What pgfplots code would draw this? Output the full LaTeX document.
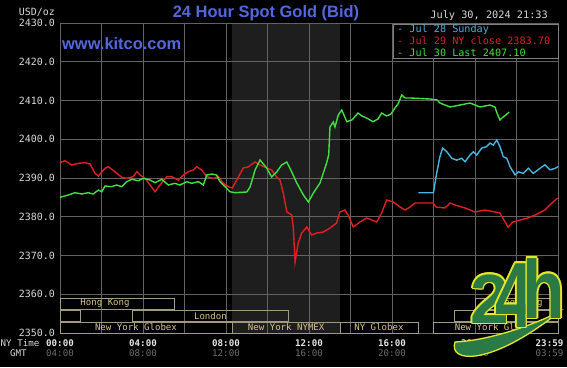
\documentclass[border=0pt]{standalone}
\usepackage{pgfplots}
\pgfplotsset{compat=1.18}
\usepackage{fontspec}
\setmainfont{DejaVu Sans Mono}
\newfontfamily\mono{DejaVu Sans Mono}
\newfontfamily\arialb{Liberation Sans}
\definecolor{gridc}{HTML}{626262}
\definecolor{shadec}{HTML}{1E1E1E}
\definecolor{titleblue}{HTML}{5468DE}
\definecolor{tlabel}{HTML}{D8D8D8}
\definecolor{gmtc}{HTML}{6E6E6E}
\definecolor{sessline}{HTML}{A09A80}
\definecolor{sesstext}{HTML}{D6C48C}
\definecolor{cblue}{HTML}{48B4E0}
\definecolor{cred}{HTML}{E02020}
\definecolor{cgreen}{HTML}{40E040}
\definecolor{logog}{HTML}{2A7A45}
\definecolor{logoy}{HTML}{E6E62A}
\newcommand\logoglyph[5]{%
  \foreach \dx/\dy in {1.5/0,-1.5/0,0/1.5,0/-1.5,1.1/1.1,1.1/-1.1,-1.1/1.1,-1.1/-1.1}{%
    \node[anchor=base, inner sep=0pt, xscale=#4, text=logoy, font=\arialb\bfseries\fontsize{#3}{#3}\selectfont] at ([shift={(\dx,\dy)}]#1,#2) {#5};}%
  \node[anchor=base, inner sep=0pt, xscale=#4, text=logog, font=\arialb\bfseries\fontsize{#3}{#3}\selectfont] at (#1,#2) {#5};}
\begin{document}
\begin{tikzpicture}[x=1bp,y=1bp]
\begin{axis}[
  name=ax,
  scale only axis, width=498bp, height=310bp,
  xmin=0, xmax=24, ymin=2350, ymax=2430,
  xtick={0,2,...,24}, xticklabels={},
  ytick={2350,2360,...,2430},
  yticklabels={2350.0,2360.0,2370.0,2380.0,2390.0,2400.0,2410.0,2420.0,2430.0},
  yticklabel style={font=\mono\fontsize{10}{12}\selectfont, text=tlabel, anchor=east, inner sep=0pt, xshift=-5bp},
  major tick length=0pt,
  grid=major, major grid style={gridc, line width=0.6bp},
  axis line style={gridc, line width=0.6bp},
  set layers, clip=false,
]
\coordinate (sw) at (rel axis cs:0,0);
\pgfplotsextra{%
\begin{pgfonlayer}{axis background}
\fill[black] (rel axis cs:-0.1205,-0.1097) rectangle (rel axis cs:1.0181,1.0742);
\fill[shadec] (axis cs:8.3,2350) rectangle (axis cs:13.5,2430);
\end{pgfonlayer}}
% session boxes
\begin{scope}[sessline, line width=0.6bp]
\draw (axis cs:0,2356.2) rectangle (axis cs:5.5,2359.0);
\draw (axis cs:20,2356.2) rectangle (axis cs:24,2359.0);
\draw (axis cs:0,2352.95) rectangle (axis cs:1,2355.8);
\draw (axis cs:3.5,2352.95) rectangle (axis cs:11,2355.8);
\draw (axis cs:19,2352.95) rectangle (axis cs:24,2355.8);
\draw (axis cs:0,2350.05) rectangle (axis cs:8.3,2352.8);
\draw (axis cs:8.3,2350.05) rectangle (axis cs:13.5,2352.8);
\draw (axis cs:13.5,2350.05) rectangle (axis cs:17.25,2352.8);
\draw (axis cs:18,2350.05) rectangle (axis cs:24,2352.8);
\end{scope}
\begin{scope}[every node/.style={font=\mono\fontsize{9.1}{10}\selectfont, text=sesstext, inner sep=0pt}]
\node at (axis cs:2.17,2357.6) {Hong Kong};
\node at (axis cs:22.07,2357.6) {Hong Kong};
\node at (axis cs:7.25,2354.4) {London};
\node at (axis cs:3.66,2351.4) {New York Globex};
\node at (axis cs:10.9,2351.4) {New York NYMEX};
\node at (axis cs:15.37,2351.4) {NY Globex};
\node at (axis cs:21,2351.4) {New York Globex};
\end{scope}
% Jul 28 Sunday
\addplot[cblue, line width=1.4bp] coordinates {
(17.27,2386.2) (17.99,2386.2) (18.02,2386.9) (18.15,2391.2) (18.31,2395.5) (18.44,2397.7) (18.64,2396.8) (18.88,2395.1) (19.12,2394.6) (19.36,2395.1) (19.52,2394.2) (19.76,2395.9) (19.92,2396.8) (20.08,2395.9) (20.32,2397.7) (20.56,2398.1) (20.72,2399.0) (20.88,2398.5) (21.05,2399.8) (21.20,2398.1) (21.36,2395.5) (21.53,2395.1) (21.69,2392.9) (21.93,2390.8) (22.09,2391.6) (22.33,2391.2) (22.57,2392.5) (22.81,2391.2) (23.13,2392.5) (23.37,2393.4) (23.61,2392.1) (23.86,2392.5) (24.0,2392.9)};
% Jul 29
\addplot[cred, line width=1.4bp] coordinates {
(0,2393.95) (0.24,2394.46) (0.56,2393.35) (0.88,2393.79) (1.20,2393.95) (1.45,2393.61) (1.69,2391.21) (1.85,2390.52) (2.17,2392.50) (2.33,2392.92) (2.65,2391.63) (2.97,2390.18) (3.21,2389.92) (3.53,2390.34) (3.70,2391.63) (3.86,2390.77) (4.10,2389.92) (4.34,2388.19) (4.58,2386.46) (4.82,2388.19) (5.14,2390.34) (5.38,2390.34) (5.70,2389.48) (5.94,2390.77) (6.18,2391.63) (6.42,2392.06) (6.59,2392.92) (6.83,2392.06) (7.07,2390.34) (7.39,2389.92) (7.63,2390.34) (7.87,2388.63) (8.11,2387.76) (8.30,2387.4) (8.52,2389.48) (8.83,2392.58) (9.06,2392.84) (9.40,2394.13) (9.64,2393.35) (9.96,2392.58) (10.20,2392.06) (10.44,2390.26) (10.60,2389.48) (10.76,2386.13) (10.93,2381.23) (11.17,2380.45) (11.24,2377.35) (11.33,2368.32) (11.48,2373.23) (11.65,2375.81) (11.89,2377.35) (12.13,2375.29) (12.37,2375.81) (12.69,2376.06) (13.01,2377.10) (13.33,2378.39) (13.49,2381.23) (13.73,2381.74) (13.89,2380.45) (14.13,2377.35) (14.46,2378.65) (14.78,2379.68) (15.02,2379.16) (15.26,2378.65) (15.50,2380.97) (15.74,2384.32) (16.06,2383.81) (16.39,2382.52) (16.63,2381.74) (16.87,2382.52) (17.11,2383.55) (17.98,2383.55) (18.12,2382.52) (18.55,2382.26) (18.80,2383.55) (19.04,2383.03) (19.52,2382.26) (20.00,2381.23) (20.48,2381.74) (20.96,2381.23) (21.20,2380.97) (21.45,2378.65) (21.59,2377.35) (21.83,2378.65) (22.17,2379.16) (22.55,2379.68) (22.89,2380.45) (23.37,2381.74) (23.71,2383.55) (23.98,2384.84)};
% Jul 30
\addplot[cgreen, line width=1.4bp] coordinates {
(0,2385.02) (0.40,2385.61) (0.72,2386.21) (1.05,2385.87) (1.36,2386.21) (1.60,2385.87) (1.85,2386.90) (2.01,2386.46) (2.17,2387.94) (2.49,2387.76) (2.73,2388.19) (2.97,2387.76) (3.21,2389.05) (3.46,2389.66) (3.77,2389.30) (4.01,2389.92) (4.34,2389.48) (4.58,2388.79) (4.90,2389.66) (5.22,2388.19) (5.54,2388.63) (5.78,2388.19) (6.11,2389.05) (6.35,2388.63) (6.67,2389.05) (6.91,2388.19) (7.07,2390.77) (7.31,2391.03) (7.55,2390.77) (7.71,2389.05) (7.95,2387.76) (8.19,2386.46) (8.43,2386.21) (9.00,2386.39) (9.16,2387.68) (9.40,2392.06) (9.64,2394.65) (9.96,2392.58) (10.20,2390.26) (10.44,2391.55) (10.68,2393.35) (10.93,2394.13) (11.17,2391.55) (11.41,2388.71) (11.73,2385.61) (11.97,2383.81) (12.21,2386.13) (12.53,2388.71) (12.85,2393.87) (12.95,2396.0) (13.01,2403.16) (13.17,2404.45) (13.25,2403.16) (13.41,2406.26) (13.58,2407.55) (13.82,2404.53) (14.07,2404.97) (14.36,2406.77) (14.55,2406.0) (14.78,2405.48) (15.08,2404.53) (15.33,2405.23) (15.50,2406.77) (15.74,2406.0) (15.95,2406.52) (16.14,2408.06) (16.29,2409.10) (16.47,2411.42) (16.63,2410.65) (16.87,2410.65) (17.83,2410.39) (18.17,2410.13) (18.31,2409.35) (18.80,2408.32) (19.28,2408.84) (19.76,2409.35) (20.00,2408.84) (20.24,2408.32) (20.72,2408.84) (20.96,2408.32) (21.06,2406.77) (21.20,2404.97) (21.35,2405.74) (21.49,2406.26) (21.64,2407.03)};
\end{axis}
\begin{scope}[shift={(sw)}, shift={(-60,-34)}]
% texts
\node[anchor=east, inner sep=0pt, text=tlabel, font=\mono\fontsize{10}{12}\selectfont] at (55,355) {USD/oz};
\node[inner sep=0pt, text=titleblue, font=\arialb\bfseries\fontsize{16.5}{18}\selectfont] at (266,354) {24 Hour Spot Gold (Bid)};
\node[anchor=west, inner sep=0pt, text=titleblue, font=\arialb\bfseries\fontsize{16.5}{18}\selectfont] at (62,323) {www.kitco.com};
\node[anchor=east, inner sep=0pt, text=tlabel, font=\mono\fontsize{10.3}{12}\selectfont] at (548,351) {July 30, 2024 21:33};
% legend
\filldraw[fill=black, draw=gray, line width=0.6bp] (393,309) rectangle (558,343);
\begin{scope}[every node/.style={anchor=west, inner sep=0pt, font=\mono\fontsize{10.2}{12}\selectfont}]
\node[text=cblue] at (397,337) {- Jul 28 Sunday};
\node[text=cred] at (397,326) {- Jul 29 NY close 2383.70};
\node[text=cgreen] at (397,314.7) {- Jul 30 Last 2407.10};
\end{scope}
% x labels
\begin{scope}[every node/.style={inner sep=0pt, font=\mono\bfseries\fontsize{9.2}{11}\selectfont, text=white!90!black}]
\node[anchor=west, text=tlabel, font=\mono\fontsize{9.2}{11}\selectfont] at (0.5,24) {NY Time};
\node at (60,24) {00:00};
\node at (143,24) {04:00};
\node at (226,24) {08:00};
\node at (309,24) {12:00};
\node at (392,24) {16:00};
\node at (475,24) {20:00};
\node[anchor=east] at (563.5,24) {23:59};
\end{scope}
\begin{scope}[every node/.style={inner sep=0pt, font=\mono\fontsize{9.2}{11}\selectfont, text=gmtc}]
\node[anchor=west, text=tlabel] at (10,14) {GMT};
\node at (60,14) {04:00};
\node at (143,14) {08:00};
\node at (226,14) {12:00};
\node at (309,14) {16:00};
\node at (392,14) {20:00};
\node at (475,14) {00:00};
\node[anchor=east] at (563.5,14) {03:59};
\end{scope}
% logo
\filldraw[fill=logog, draw=logoy, line width=1.3bp] (455,25) .. controls (448,4) and (490,0) .. (559,55) .. controls (520,36) and (480,26) .. (455,25) -- cycle;
\logoglyph{489.5}{44}{70}{1.0}{2}
\logoglyph{514}{40}{93}{0.72}{4}
\logoglyph{544}{49}{83}{0.84}{h}
\pgfresetboundingbox
\path[use as bounding box] (0,0) rectangle (567,367);
\end{scope}
\end{tikzpicture}
\end{document}
